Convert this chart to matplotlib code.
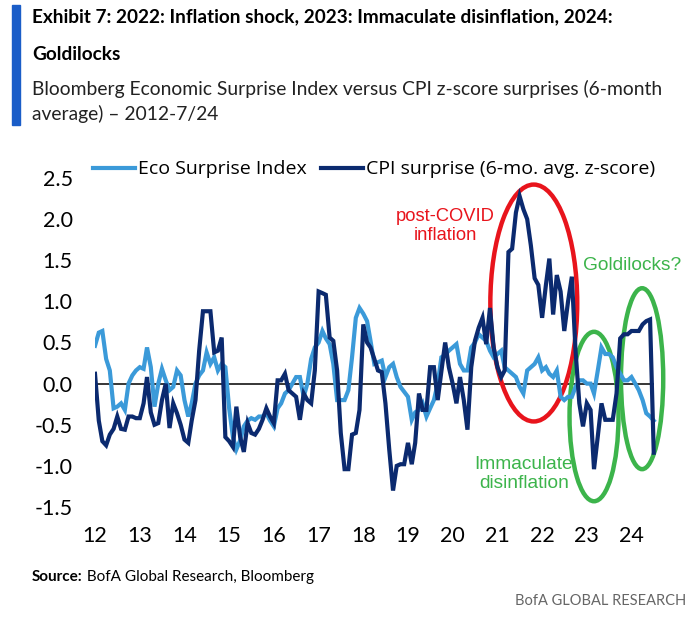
from __future__ import annotations

import matplotlib

matplotlib.use("Agg")
import matplotlib.pyplot as plt
import matplotlib.dates as mdates
from matplotlib.patches import Ellipse, Rectangle
import pandas as pd


MONTHS = pd.date_range("2012-01-01", "2024-07-01", freq="MS")

ECO_SURPRISE = [
    0.46, 0.62, 0.64, 0.30, 0.16, -0.30, -0.28, -0.24, -0.32, 0.00, 0.10, 0.16,
    0.20, 0.18, 0.44, 0.20, -0.28, 0.00, 0.18, 0.04, -0.08, -0.04, 0.16, 0.10,
    -0.20, -0.40, -0.24, 0.00, 0.10, 0.16, 0.38, 0.24, 0.32, 0.16, 0.24, 0.20,
    -0.30, -0.65, -0.80, -0.69, -0.52, -0.45, -0.42, -0.44, -0.40, -0.40, -0.36, -0.45,
    -0.52, -0.30, -0.24, -0.12, -0.08, 0.00, 0.08, 0.08, -0.16, 0.00, 0.30, 0.44,
    0.50, 0.64, 0.55, 0.48, 0.24, -0.20, -0.20, -0.20, -0.08, 0.32, 0.80, 0.92,
    0.85, 0.76, 0.52, 0.24, 0.26, 0.28, 0.08, 0.20, 0.24, 0.08, -0.04, -0.10,
    -0.16, -0.44, -0.35, -0.32, -0.24, -0.40, -0.30, -0.20, 0.00, 0.32, 0.35, 0.40,
    0.44, 0.48, 0.24, 0.16, 0.16, 0.44, 0.50, 0.60, 0.56, 0.52, 0.40, 0.32,
    0.36, 0.40, 0.20, 0.16, 0.12, 0.08, -0.04, -0.12, 0.16, 0.20, 0.24, 0.32,
    0.16, 0.20, 0.12, 0.08, 0.16, -0.16, -0.20, -0.16, -0.16, -0.04, 0.04, 0.04,
    0.00, 0.00, -0.12, 0.16, 0.44, 0.36, 0.36, 0.32, 0.20, 0.12, 0.04, 0.04,
    0.08, 0.00, -0.08, -0.20, -0.36, -0.40, -0.45,
]

CPI_SURPRISE = [
    0.12, -0.45, -0.70, -0.75, -0.62, -0.55, -0.40, -0.55, -0.56, -0.40, -0.40, -0.42,
    -0.42, -0.24, 0.08, -0.35, -0.50, -0.48, -0.20, 0.00, -0.54, -0.24, -0.36, -0.50,
    -0.68, -0.72, -0.45, -0.20, 0.40, 0.88, 0.88, 0.88, 0.38, 0.40, 0.56, -0.65,
    -0.70, -0.77, -0.28, -0.65, -0.83, -0.48, -0.60, -0.62, -0.55, -0.44, -0.30, -0.40,
    -0.48, 0.04, 0.04, 0.12, -0.08, -0.12, -0.16, -0.44, -0.12, -0.20, -0.24, 0.16,
    1.12, 1.10, 1.08, 0.56, 0.52, 0.16, -0.60, -1.04, -1.04, -0.62, -0.60, -0.32,
    0.72, 0.50, 0.44, 0.30, 0.16, 0.14, -0.24, -0.80, -1.30, -1.00, -0.98, -0.98,
    -0.72, -0.98, -0.72, -0.12, -0.32, -0.32, 0.20, 0.20, -0.20, 0.15, 0.50, 0.20,
    0.00, -0.24, 0.08, -0.20, -0.56, 0.20, 0.52, 0.68, 0.80, 0.48, 0.92, 0.44,
    0.20, 0.08, 0.16, 1.60, 1.64, 2.08, 2.28, 2.12, 2.00, 1.68, 1.28, 1.20,
    0.80, 1.20, 1.52, 0.84, 1.32, 1.12, 0.64, 1.00, 1.30, 0.40, -0.24, -0.52,
    -0.24, -0.32, -1.04, -0.64, -0.24, -0.44, -0.44, -0.44, -0.12, 0.55, 0.60, 0.60,
    0.64, 0.64, 0.64, 0.72, 0.76, 0.78, -0.84,
]

Y_TICKS = [-1.5, -1.0, -0.5, 0.0, 0.5, 1.0, 1.5, 2.0, 2.5]

LIGHT = "#3b9ad9"
NAVY = "#0b2a6f"
RED = "#e8141c"
GREEN = "#3cb44b"

NARROW = ["Lato", "DejaVu Sans"]
BODY = ["Open Sans", "DejaVu Sans"]
ARIAL = ["Liberation Sans", "DejaVu Sans"]


def main() -> None:
    W, H = 696, 617
    fig = plt.figure(figsize=(W / 100, H / 100), dpi=100)

    # header
    fig.patches.append(Rectangle((12 / W, 1 - 125 / H), 8 / W, 120 / H,
                                 transform=fig.transFigure, color="#1a5dc8"))
    fig.text(32 / W, 1 - 8 / H,
             "Exhibit 7: 2022: Inflation shock, 2023: Immaculate disinflation, 2024:\nGoldilocks",
             family=NARROW, weight="bold", fontsize=13.7, va="top", linespacing=2.5)
    fig.text(32 / W, 1 - 80 / H,
             "Bloomberg Economic Surprise Index versus CPI z-score surprises (6-month\naverage) \u2013 2012-7/24",
             family=NARROW, fontsize=13.9, va="top", linespacing=1.45, color="#222222")

    ax = fig.add_axes([95 / W, 1 - 507 / H, 570 / W, 329 / H])
    ax.plot(MONTHS, ECO_SURPRISE, color=LIGHT, lw=3, label="Eco Surprise Index",
            solid_joinstyle="miter")
    ax.plot(MONTHS, CPI_SURPRISE, color=NAVY, lw=3,
            label="CPI surprise (6-mo. avg. z-score)", solid_joinstyle="miter")
    ax.hlines(0, MONTHS[0], MONTHS[-1], color="black", lw=1.1, zorder=1)

    ax.set_ylim(-1.5, 2.5)
    ax.set_xlim(pd.Timestamp("2012-01-01"), pd.Timestamp("2024-10-01"))
    ax.set_yticks(Y_TICKS)
    ax.set_yticklabels([f"{t:.1f}" for t in Y_TICKS])
    ax.xaxis.set_major_locator(mdates.YearLocator())
    ax.xaxis.set_major_formatter(mdates.DateFormatter("%y"))
    ax.tick_params(length=0, labelsize=15.5)
    ax.tick_params(axis="x", pad=14)
    ax.tick_params(axis="y", pad=16)
    for lab in ax.get_xticklabels() + ax.get_yticklabels():
        lab.set_family(NARROW)
    for side in ax.spines.values():
        side.set_visible(False)

    ax.legend(loc="upper left", bbox_to_anchor=(-0.018, 1.077), ncol=2, frameon=False,
              prop={"family": BODY, "size": 14}, handlelength=2.2, handletextpad=0.15,
              columnspacing=0.7, borderaxespad=0)

    # annotations
    ax.add_patch(Ellipse((mdates.date2num(pd.Timestamp("2021-10-25")), 0.98), 710, 2.88,
                         fill=False, ec=RED, lw=3.2, clip_on=False))
    ax.add_patch(Ellipse((mdates.date2num(pd.Timestamp("2023-03-01")), -0.40), 400, 2.06,
                         fill=False, ec=GREEN, lw=3.2, clip_on=False))
    ax.add_patch(Ellipse((mdates.date2num(pd.Timestamp("2024-03-28")), 0.06), 345, 2.2,
                         fill=False, ec=GREEN, lw=3.2, clip_on=False))
    fig.text(445 / W, 1 - 226 / H, "post-COVID\ninflation", color=RED, fontsize=13.2,
             family=ARIAL, ha="center", va="center", linespacing=1.15)
    fig.text(632 / W, 1 - 265 / H, "Goldilocks?", color=GREEN, fontsize=13.8,
             family=ARIAL, ha="center", va="center")
    fig.text(524 / W, 1 - 474 / H, "Immaculate\ndisinflation", color=GREEN, fontsize=13.8,
             family=ARIAL, ha="center", va="center", linespacing=1.15)

    # footer
    src = fig.text(32 / W, 1 - 577 / H, "Source:", family=NARROW, weight="bold",
                   fontsize=11, va="center")
    ax.annotate(" BofA Global Research, Bloomberg", xy=(1, 0.5), xycoords=src,
                va="center", ha="left", family=NARROW, fontsize=11,
                annotation_clip=False)
    fig.text(686 / W, 1 - 601 / H, "BofA GLOBAL RESEARCH", family=NARROW, fontsize=10.5,
             ha="right", va="center", color="#666666")

    fig.savefig("out.png", dpi=100)
    plt.close(fig)


if __name__ == "__main__":
    main()
